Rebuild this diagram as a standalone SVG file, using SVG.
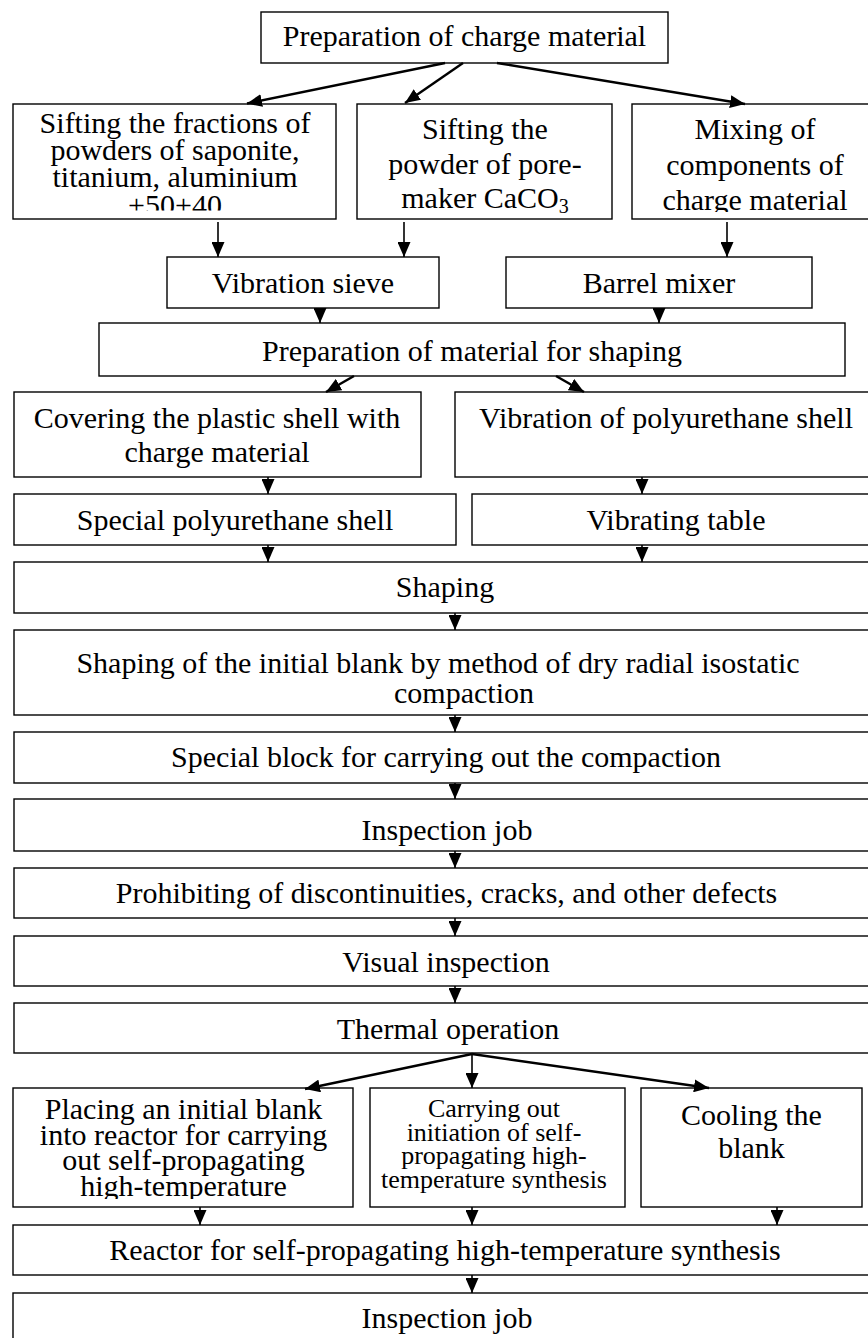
<svg xmlns="http://www.w3.org/2000/svg" width="868" height="1338" viewBox="0 0 868 1338">
<style>
.box{fill:#fff;stroke:#000;stroke-width:1.4}
.t{font-family:"Liberation Serif","Times New Roman",serif;font-size:30px;text-anchor:middle;fill:#000}
.s{font-size:26px}
.c{stroke:#000;stroke-width:1.6;fill:none;marker-end:url(#ah)}
.d{stroke-width:2.4}
</style>
<defs>
<marker id="ah" markerUnits="userSpaceOnUse" markerWidth="15" markerHeight="13" refX="15" refY="6.5" orient="auto" viewBox="0 0 15 13">
<path d="M0,0 L15,6.5 L0,13 Z" fill="#000"/>
</marker>
<clipPath id="clipA"><rect x="13" y="104" width="323" height="106.5"/></clipPath>
<clipPath id="clipC"><rect x="632" y="104" width="246" height="108"/></clipPath>
<clipPath id="clipP"><rect x="13" y="1088" width="340" height="111"/></clipPath>
</defs>
<rect width="868" height="1338" fill="#fff"/>
<g id="n1"><rect class="box" x="261" y="12" width="407" height="51"/><text class="t" x="464.5" y="46">Preparation of charge material</text></g>
<g id="n2"><rect class="box" x="13" y="104" width="323" height="115"/><text class="t" clip-path="url(#clipA)"><tspan x="175" y="133">Sifting the fractions of</tspan><tspan x="175" y="160">powders of saponite,</tspan><tspan x="175" y="187">titanium, aluminium</tspan><tspan x="175" y="215">+50+40</tspan></text></g>
<g id="n3"><rect class="box" x="357" y="104" width="255" height="115"/><text class="t"><tspan x="485" y="139">Sifting the</tspan><tspan x="485" y="174">powder of pore-</tspan><tspan x="485" y="208">maker CaCO<tspan font-size="20px" dy="5">3</tspan></tspan></text></g>
<g id="n4"><rect class="box" x="632" y="104" width="246" height="115"/><text class="t" clip-path="url(#clipC)"><tspan x="755" y="139">Mixing of</tspan><tspan x="755" y="175">components of</tspan><tspan x="755" y="210">charge material</tspan></text></g>
<g id="n5"><rect class="box" x="167" y="257" width="272" height="51"/><text class="t" x="303" y="293">Vibration sieve</text></g>
<g id="n6"><rect class="box" x="506" y="257" width="306" height="51"/><text class="t" x="659" y="293">Barrel mixer</text></g>
<g id="n7"><rect class="box" x="99" y="323" width="746" height="53"/><text class="t" x="472" y="361">Preparation of material for shaping</text></g>
<g id="n8"><rect class="box" x="14" y="392" width="407" height="85"/><text class="t"><tspan x="217" y="428">Covering the plastic shell with</tspan><tspan x="217" y="462">charge material</tspan></text></g>
<g id="n9"><rect class="box" x="455" y="392" width="423" height="85"/><text class="t" x="666" y="428">Vibration of polyurethane shell</text></g>
<g id="n10"><rect class="box" x="14" y="494" width="442" height="51"/><text class="t" x="235" y="530">Special polyurethane shell</text></g>
<g id="n11"><rect class="box" x="472" y="494" width="406" height="51"/><text class="t" x="676" y="530">Vibrating table</text></g>
<g id="n12"><rect class="box" x="14" y="562" width="864" height="51"/><text class="t" x="445" y="597">Shaping</text></g>
<g id="n13"><rect class="box" x="14" y="630" width="864" height="85"/><text class="t"><tspan x="438" y="673">Shaping of the initial blank by method of dry radial isostatic</tspan><tspan x="464" y="703">compaction</tspan></text></g>
<g id="n14"><rect class="box" x="14" y="732" width="864" height="51"/><text class="t" x="446" y="767">Special block for carrying out the compaction</text></g>
<g id="n15"><rect class="box" x="14" y="799" width="864" height="52"/><text class="t" x="447" y="840">Inspection job</text></g>
<g id="n16"><rect class="box" x="14" y="868" width="864" height="50"/><text class="t" x="446.5" y="903">Prohibiting of discontinuities, cracks, and other defects</text></g>
<g id="n17"><rect class="box" x="14" y="936" width="864" height="50"/><text class="t" x="446" y="972">Visual inspection</text></g>
<g id="n18"><rect class="box" x="14" y="1003" width="864" height="50"/><text class="t" x="448" y="1039">Thermal operation</text></g>
<g id="n19"><rect class="box" x="13" y="1088" width="340" height="119"/><text class="t" clip-path="url(#clipP)"><tspan x="183.5" y="1119">Placing an initial blank</tspan><tspan x="183.5" y="1144.5">into reactor for carrying</tspan><tspan x="183.5" y="1170">out self-propagating</tspan><tspan x="183.5" y="1196">high-temperature</tspan></text></g>
<g id="n20"><rect class="box" x="370" y="1088" width="255" height="119"/><text class="t s"><tspan x="494" y="1117">Carrying out</tspan><tspan x="494" y="1140.5">initiation of self-</tspan><tspan x="494" y="1164">propagating high-</tspan><tspan x="494" y="1188">temperature synthesis</tspan></text></g>
<g id="n21"><rect class="box" x="641" y="1088" width="221" height="119"/><text class="t"><tspan x="751.5" y="1125">Cooling the</tspan><tspan x="751.5" y="1158">blank</tspan></text></g>
<g id="n22"><rect class="box" x="13" y="1225" width="865" height="50"/><text class="t" x="445" y="1260">Reactor for self-propagating high-temperature synthesis</text></g>
<g id="n23"><rect class="box" x="13" y="1293" width="865" height="60"/><text class="t" x="447" y="1328">Inspection job</text></g>
<g id="connectors">
<line class="c d" x1="445" y1="63" x2="247" y2="103.5"/>
<line class="c d" x1="463" y1="63" x2="405" y2="103"/>
<line class="c d" x1="497" y1="63" x2="745" y2="104"/>
<line class="c" x1="218" y1="222" x2="218" y2="257"/>
<line class="c" x1="404" y1="222" x2="404" y2="257"/>
<line class="c" x1="727" y1="222" x2="727" y2="257"/>
<line class="c" x1="320" y1="308" x2="320" y2="323"/>
<line class="c" x1="659" y1="308" x2="659" y2="323"/>
<line class="c d" x1="354" y1="376" x2="326" y2="392"/>
<line class="c d" x1="556" y1="376" x2="584" y2="392"/>
<line class="c" x1="268" y1="477" x2="268" y2="494"/>
<line class="c" x1="642" y1="477" x2="642" y2="494"/>
<line class="c" x1="268" y1="545" x2="268" y2="562"/>
<line class="c" x1="642" y1="545" x2="642" y2="562"/>
<line class="c" x1="455" y1="613" x2="455" y2="630"/>
<line class="c" x1="455" y1="715" x2="455" y2="732"/>
<line class="c" x1="455" y1="783" x2="455" y2="799"/>
<line class="c" x1="455" y1="851" x2="455" y2="868"/>
<line class="c" x1="455" y1="918" x2="455" y2="936"/>
<line class="c" x1="455" y1="986" x2="455" y2="1003"/>
<line class="c d" x1="472" y1="1054" x2="305" y2="1089"/>
<line class="c" x1="472" y1="1054" x2="472" y2="1088"/>
<line class="c d" x1="472" y1="1054" x2="709" y2="1088"/>
<line class="c" x1="200" y1="1207" x2="200" y2="1225"/>
<line class="c" x1="472" y1="1207" x2="472" y2="1225"/>
<line class="c" x1="777" y1="1207" x2="777" y2="1225"/>
<line class="c" x1="472" y1="1275" x2="472" y2="1293"/>
</g>
</svg>
